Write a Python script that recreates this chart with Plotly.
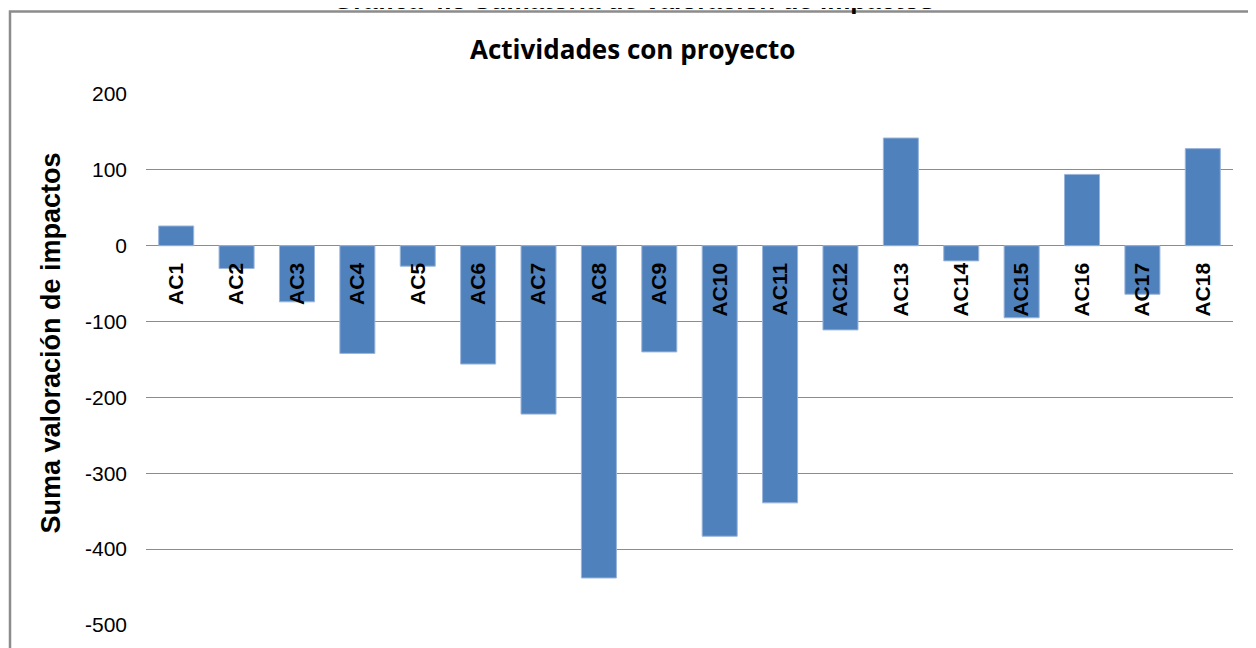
import plotly.graph_objects as go

categories = ["AC1", "AC2", "AC3", "AC4", "AC5", "AC6", "AC7", "AC8", "AC9",
              "AC10", "AC11", "AC12", "AC13", "AC14", "AC15", "AC16", "AC17", "AC18"]
values = [26, -30, -74, -142, -27, -156, -222, -438, -140,
          -383, -339, -111, 142, -20, -95, 94, -64, 128]
y_ticks = [200, 100, 0, -100, -200, -300, -400, -500]

# page body has an 8px margin, so the figure is drawn 8px smaller and shifted
OFF = 8
W, H = 1256 - OFF, 648 - OFF
ML, MR, MT, MB = 146 - OFF, 23, 94 - OFF, 20
PW, PH = W - ML - MR, H - MT - MB
YMIN, YMAX = -500, 200


def px_x(sx):
    # sx: screen pixel x
    return (sx - OFF - ML) / PW


def px_y(sy):
    # sy: screen pixel y
    return (H - MB - (sy - OFF)) / PH


fig = go.Figure()
fig.add_trace(go.Bar(
    x=categories, y=values,
    marker=dict(color="#4F81BD", line=dict(color="#9BB5DA", width=1)),
    width=0.58,
    hoverinfo="x+y",
))

fig.update_layout(
    width=W, height=H,
    margin=dict(l=ML, r=MR, t=MT, b=MB),
    paper_bgcolor="white", plot_bgcolor="white",
    showlegend=False,
    font=dict(family="Liberation Sans, Arial, sans-serif", color="black"),
    xaxis=dict(
        type="category",
        range=[-0.5, len(categories) - 0.5],
        anchor="free",
        position=(0 - YMIN) / (YMAX - YMIN),
        tickangle=-90,
        tickfont=dict(size=21, family="Liberation Sans, Arial, sans-serif", color="black",
                      weight="bold"),
        showgrid=False, showline=False, ticks="",
        ticklabelstandoff=12,
        fixedrange=True,
    ),
    yaxis=dict(
        range=[YMIN, YMAX],
        tickvals=y_ticks,
        ticktext=[str(v) for v in y_ticks],
        tickfont=dict(size=21, color="black"),
        showgrid=True, gridcolor="#8C8C8C", gridwidth=1,
        zeroline=True, zerolinecolor="#8C8C8C", zerolinewidth=1,
        showline=False, ticks="",
        ticklabelstandoff=18,
        fixedrange=True,
    ),
    shapes=[
        dict(type="rect", xref="paper", yref="paper",
             x0=px_x(10), x1=px_x(1300), y0=px_y(720), y1=px_y(11),
             line=dict(color="#8C8C8C", width=2.5), fillcolor="rgba(0,0,0,0)",
             layer="below"),
    ],
    annotations=[
        dict(text="<b>Gráfica 4.3 Sumatoria de valoración de impactos</b>",
             xref="paper", yref="paper", x=px_x(633), y=px_y(-1),
             xanchor="center", yanchor="middle", showarrow=False,
             font=dict(size=26, family="Liberation Sans, Arial, sans-serif")),
        dict(text="<b>Actividades con proyecto</b>",
             xref="paper", yref="paper", x=px_x(632), y=px_y(49),
             xanchor="center", yanchor="middle", showarrow=False,
             font=dict(size=26, family="Open Sans, sans-serif")),
        dict(text="<b>Suma valoración de impactos</b>",
             xref="paper", yref="paper", x=px_x(51), y=px_y(345),
             xanchor="center", yanchor="middle", showarrow=False,
             textangle=-90,
             font=dict(size=27, family="Liberation Sans, Arial, sans-serif")),
    ],
)

fig.write_html("out.html")
